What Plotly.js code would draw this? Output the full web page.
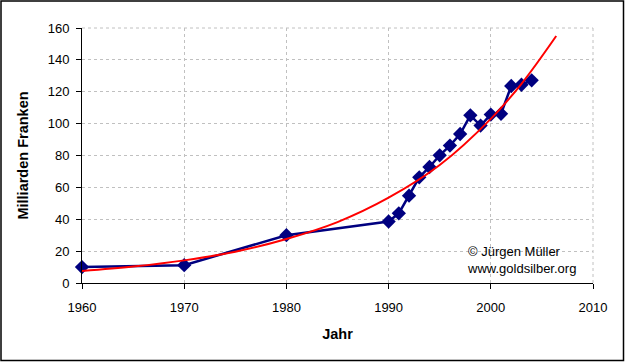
<!DOCTYPE html>
<html>
<head>
<meta charset="utf-8">
<script src="https://cdn.plot.ly/plotly-3.0.1.min.js"></script>
<style>
html,body{margin:0;padding:0;background:#fff;}
#chart{width:625px;height:362px;}
</style>
</head>
<body>
<div id="chart"></div>
<script>
// Data
const years = [1960, 1970, 1980, 1990, 1991, 1992, 1993, 1994, 1995, 1996, 1997, 1998, 1999, 2000, 2001, 2002, 2003, 2004];
const values = [10.0, 11.2, 30.0, 38.6, 43.7, 54.8, 66.3, 72.8, 80.1, 86.2, 93.5, 105.2, 98.8, 105.7, 106.2, 123.6, 124.4, 127.2];

// Exponential trend line
const trendYears = [1960, 1965, 1970, 1975, 1980, 1985, 1990, 1995, 2000, 2003, 2006.4];
const trendValues = [7.5, 10.3, 14.2, 19.6, 27.6, 38.2, 53.5, 74.0, 103.0, 125.0, 155.0];

const xTicks = [1960, 1970, 1980, 1990, 2000, 2010];
const yTicks = [0, 20, 40, 60, 80, 100, 120, 140, 160];

const W = 625, H = 362;
const M = {l: 82, r: 32, t: 28, b: 79};
const pw = W - M.l - M.r, ph = H - M.t - M.b;

const FAM = 'Liberation Sans, Arial, sans-serif';
const font = {family: FAM, size: 13, color: '#000'};
const titleFont = {family: FAM, size: 14.5, color: '#000'};

const traces = [
  {
    x: years, y: values, type: 'scatter', mode: 'lines+markers',
    line: {color: '#000080', width: 2.5},
    marker: {symbol: 'diamond', size: 11, color: '#000080'},
    cliponaxis: false,
    hoverinfo: 'skip', showlegend: false
  },
  {
    x: trendYears, y: trendValues, type: 'scatter', mode: 'lines',
    line: {color: '#ff0000', width: 2, shape: 'spline'},
    hoverinfo: 'skip', showlegend: false
  }
];

const grid = {color: '#c0c0c0', width: 1, dash: '3px,3px'};

const layout = {
  width: W, height: H,
  margin: M,
  paper_bgcolor: '#fff', plot_bgcolor: '#fff',
  font: font,
  showlegend: false,
  xaxis: {
    range: [1960, 2010], tickvals: xTicks, ticktext: xTicks.map(String),
    showline: true, linecolor: '#000', linewidth: 1,
    ticks: 'outside', ticklen: 5, tickcolor: '#000',
    showgrid: true, gridcolor: grid.color, griddash: grid.dash, gridwidth: 1,
    zeroline: false, tickfont: font, ticklabelstandoff: 7,
    title: {text: '<b>Jahr</b>', font: titleFont, standoff: 15}
  },
  yaxis: {
    range: [0, 160], tickvals: yTicks, ticktext: yTicks.map(String),
    showline: true, linecolor: '#000', linewidth: 1,
    ticks: 'outside', ticklen: 5, tickcolor: '#000',
    showgrid: true, gridcolor: grid.color, griddash: grid.dash, gridwidth: 1,
    zeroline: false, tickfont: font, ticklabelstandoff: 4,
    title: {text: '<b>Milliarden Franken</b>', font: titleFont, standoff: 15}
  },
  shapes: [
    {type: 'line', xref: 'paper', yref: 'paper', x0: 1, x1: 1, y0: 0, y1: 1,
     line: grid, layer: 'below'},
    {type: 'line', xref: 'paper', yref: 'paper', x0: 0, x1: 1, y0: 1, y1: 1,
     line: grid, layer: 'below'},
    {type: 'rect', xref: 'paper', yref: 'paper',
     x0: (1 - M.l) / pw, x1: (W - 1.5 - M.l) / pw,
     y0: -(H - 1.5 - M.t - ph) / ph, y1: (ph + M.t - 1) / ph,
     line: {color: '#000', width: 1.5}, fillcolor: 'rgba(0,0,0,0)'}
  ],
  annotations: [
    {xref: 'paper', yref: 'paper', x: (465 - M.l) / pw, y: (283 - 242) / ph,
     xanchor: 'left', yanchor: 'top', align: 'left', showarrow: false,
     text: '© Jürgen Müller<br>www.goldsilber.org', font: font}
  ]
};

Plotly.newPlot('chart', traces, layout, {staticPlot: true, displayModeBar: false});
</script>
</body>
</html>
